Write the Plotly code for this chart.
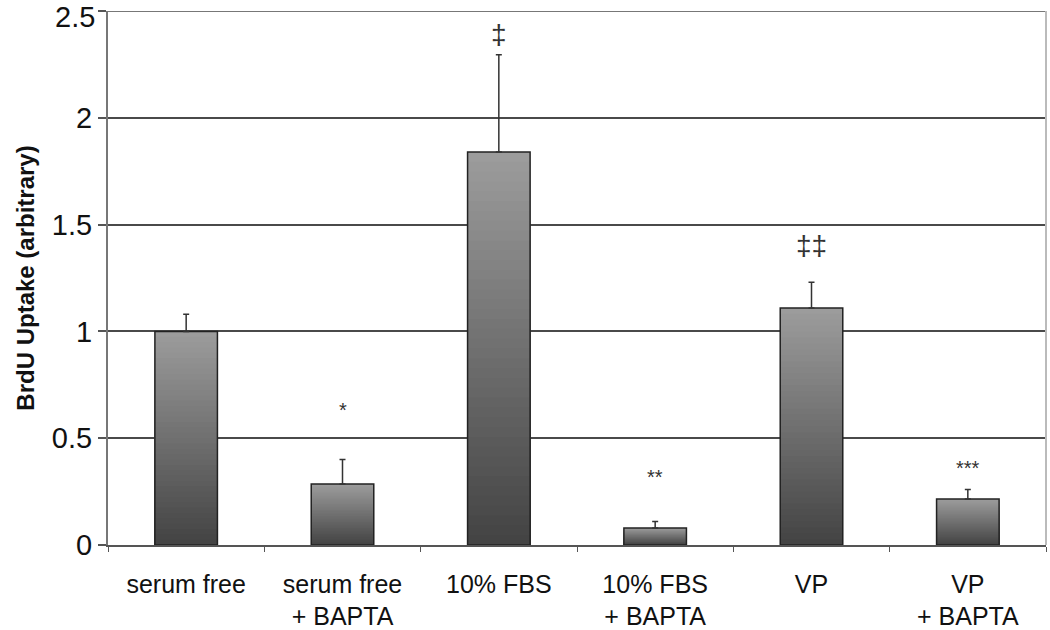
import plotly.graph_objects as go

categories = ["serum free", "serum free<br>+ BAPTA", "10% FBS",
              "10% FBS<br>+ BAPTA", "VP", "VP<br>+ BAPTA"]
values = [1.0, 0.285, 1.84, 0.08, 1.11, 0.215]
errors = [0.08, 0.115, 0.455, 0.03, 0.12, 0.045]
marks = ["", "*", "‡", "**", "‡‡", "***"]
mark_y = [None, 0.63, 2.39, 0.32, 1.40, 0.36]
y_ticks = [0, 0.5, 1, 1.5, 2, 2.5]
y_labels = ["0", "0.5", "1", "1.5", "2", "2.5"]

N_SLICES = 40


def shade(frac):
    # frac 1 = top of bar (light grey), 0 = bottom (dark grey)
    lo, hi = 0x42, 0x9c
    c = int(lo + (hi - lo) * frac)
    return f"rgb({c},{c},{c})"


fig = go.Figure()

# gradient fill: nested bars, tallest (lightest) first, shortest (darkest) last
for i in range(N_SLICES):
    keep = (N_SLICES - i) / N_SLICES
    fig.add_trace(go.Bar(
        x=categories,
        y=[v * keep for v in values],
        marker=dict(color=shade(keep), line=dict(width=0)),
        width=0.4,
        showlegend=False,
        hoverinfo="skip",
    ))

# outline + error bars
fig.add_trace(go.Bar(
    x=categories,
    y=values,
    marker=dict(color="rgba(0,0,0,0)", line=dict(color="#222222", width=1.5)),
    width=0.4,
    error_y=dict(type="data", array=errors, arrayminus=[0] * len(errors),
                 symmetric=False, color="#333333", thickness=1.5, width=3),
    showlegend=False,
))

for cat, m, y in zip(categories, marks, mark_y):
    if m:
        fig.add_annotation(x=cat, y=y, text=m, showarrow=False,
                           font=dict(size=28 if "‡" in m else 20, color="#333333"))

# the top tick label sits at the very edge; draw it as an annotation nudged down a bit
fig.add_annotation(xref="paper", x=0, xshift=-11, xanchor="right",
                   y=y_ticks[-1], yshift=-6, yanchor="middle",
                   text=y_labels[-1], showarrow=False,
                   font=dict(size=29, color="#111111"))

fig.update_layout(
    width=1050, height=630,
    barmode="overlay",
    paper_bgcolor="white",
    plot_bgcolor="white",
    font=dict(family="Liberation Sans, Arial, sans-serif", color="#111111"),
    margin=dict(l=108, r=4, t=11, b=85),
)
fig.update_yaxes(
    range=[0, 2.5],
    tickvals=y_ticks, ticktext=y_labels[:-1] + [""],
    showgrid=True, gridcolor="#4a4a4a", gridwidth=1.5,
    showline=True, linecolor="#777777", linewidth=2,
    ticks="outside", ticklen=8, tickcolor="#555555", tickwidth=1.5,
    tickfont=dict(size=29, color="#111111"),
    title=dict(text="<b>BrdU Uptake (arbitrary)</b>", font=dict(size=24), standoff=10),
    zeroline=False,
    automargin=False,
)
fig.update_xaxes(
    showline=True, linecolor="#555555", linewidth=1.5,
    ticks="outside", ticklen=5, tickson="boundaries", tickcolor="#555555",
    tickfont=dict(size=25, color="#111111"),
    ticklabelstandoff=16,
    automargin=False,
)
# top grid line at 2.5 and light right border
fig.add_shape(type="line", xref="paper", yref="y", x0=0, x1=1, y0=2.5, y1=2.5,
              line=dict(color="#4a4a4a", width=1.5))
fig.add_shape(type="line", xref="paper", yref="paper", x0=1, x1=1, y0=0, y1=1,
              line=dict(color="#bbbbbb", width=2))

# drop the default 8px page margin so the figure fills the window
fig.write_html("out.html", config={"displayModeBar": False},
               post_script="document.body.style.margin='0';")
